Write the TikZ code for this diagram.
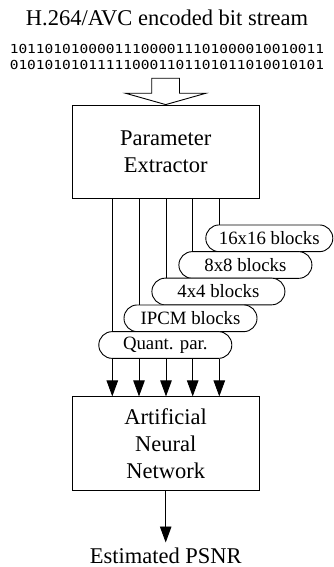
\documentclass[tikz,border=0pt]{standalone}
\usepackage{fontspec}
\setmainfont{Liberation Serif}
\newfontfamily\bitsfont[FakeStretch=1.17]{DejaVu Sans Mono}
\usetikzlibrary{arrows.meta}
\begin{document}
\begin{tikzpicture}[x=1pt,y=-1pt,
  lw/.style={line width=0.9pt},
  bigbox/.style={lw,draw,minimum width=186.7pt,minimum height=93.3pt,align=center,
     font=\fontsize{22.5}{27}\selectfont,inner sep=0pt},
  lab/.style={lw,draw,rounded corners=13.3pt,minimum width=133pt,minimum height=26.7pt,
     inner sep=0pt,font=\fontsize{18.8}{20}\selectfont,fill=white},
  txt/.style={font=\fontsize{22.5}{27}\selectfont,inner sep=0pt,anchor=base},
  bits/.style={font=\bitsfont\fontsize{12.4}{14}\selectfont,inner sep=0pt,anchor=base},
  arr/.style={lw,-{Triangle[length=16pt,width=11.5pt]}},
  hollow/.style={lw,draw,fill=white,line join=miter}]
\useasboundingbox (0,0) rectangle (334,567);

\node[txt] (title) at (167,26) {H.264/AVC encoded bit stream};
\node[bits] (b1) at (167,53.7) {101101010000111000011101000010010011};
\node[bits] (b2) at (167,70) {010101010111110001101101011010010101};

\node[bigbox] (pe) at (165.7,151.7) {Parameter\\Extractor};
\node[bigbox] (ann) at (165.7,443.5) {Artificial\\Neural\\Network};

% hollow input arrow
\coordinate (tip) at (pe.north);
\draw[hollow] (151.7,78.3) -- (179.5,78.3) -- (179.5,93.3) -- (205.7,93.3)
  -- (tip) -- (125.7,93.3) -- (151.7,93.3) -- cycle;

% labels
\node[lab,minimum width=127pt] (l5) at (269.3,238.3) {16x16 blocks};
\node[lab] (l4) at (245.4,265) {8x8 blocks};
\node[lab] (l3) at (218.4,291.5) {4x4 blocks};
\node[lab] (l2) at (190.5,318.3) {IPCM blocks};
\node[lab] (l1) at (165.3,345) {Quant. par.};

% lines from extractor to labels
\foreach \i/\x in {1/112.3,2/139,3/166,4/192.7,5/219.3}{
  \coordinate (t\i) at (\x,198.3);
  \coordinate (m\i) at (\x,358.3);
}
\draw[lw] (t5) -- (t5 |- l5.north);
\draw[lw] (t4) -- (t4 |- l4.north);
\draw[lw] (t3) -- (t3 |- l3.north);
\draw[lw] (t2) -- (t2 |- l2.north);
\draw[lw] (t1) -- (t1 |- l1.north);

% arrows into ANN
\foreach \i in {1,...,5}{
  \draw[arr] (m\i |- l1.south) -- (m\i |- ann.north);
}

\node[txt] (out) at (165.7,563) {Estimated PSNR};
\draw[arr] (ann.south) -- (165.7,542.5);
\end{tikzpicture}
\end{document}
